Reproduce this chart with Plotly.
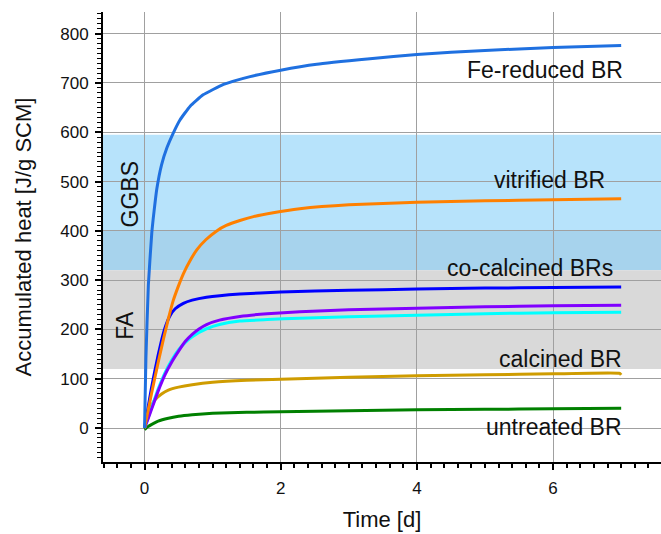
import plotly.graph_objects as go

# ---- data ----
t_fe = [0, 0.02, 0.056, 0.106, 0.14, 0.18, 0.25, 0.33, 0.42, 0.52, 0.67, 0.86, 1.16, 1.55, 2, 2.53, 3.31, 4, 5, 6, 7]
v_fe = [0, 140, 290, 395, 440, 485, 534, 569, 598, 625, 653, 676, 697, 713, 726, 738, 749, 758, 766, 772, 776]

t_vit = [0, 0.05, 0.1, 0.15, 0.2, 0.28, 0.35, 0.42, 0.5, 0.57, 0.67, 0.77, 0.9, 1.06, 1.2, 1.4, 1.6, 1.89, 2.28, 3, 4, 5, 6, 7]
v_vit = [0, 34, 68, 101, 133, 182, 222, 258, 289, 313, 340, 362, 382, 400, 411, 421, 429, 437, 445, 453, 458, 461, 463, 465]

t_cc1 = [0, 0.05, 0.1, 0.15, 0.2, 0.25, 0.3, 0.37, 0.45, 0.57, 0.7, 0.91, 1.4, 2, 3, 4, 5, 6, 7]
v_cc1 = [0, 40, 80, 115, 148, 178, 203, 227, 242, 253, 259.5, 265.5, 272, 276, 279.5, 282, 284, 285, 286]

t_cc2 = [0, 0.05, 0.1, 0.2, 0.3, 0.4, 0.5, 0.6, 0.7, 0.8, 0.91, 1.1, 1.4, 1.8, 2.28, 3, 4, 5, 6, 7]
v_cc2 = [0, 18, 37, 75, 108, 134, 156, 176, 190, 201, 210, 219, 226.5, 232, 236, 240, 243, 246, 248, 249]

t_cc3 = [0, 0.05, 0.1, 0.2, 0.3, 0.4, 0.5, 0.6, 0.7, 0.8, 0.91, 1.1, 1.4, 1.8, 2.28, 3, 4, 5, 6, 7]
v_cc3 = [0, 20, 40, 79, 112, 138, 159, 174, 185, 194, 201.5, 210, 217, 220, 223, 226, 229, 232, 234, 235]

t_cal = [0, 0.03, 0.06, 0.1, 0.15, 0.25, 0.35, 0.5, 0.7, 1.0, 1.5, 2, 3, 4, 5, 6, 6.98, 7.0]
v_cal = [0, 18, 32, 45, 57, 69, 77, 83, 88, 93, 97, 99, 103, 106, 108, 110, 111, 108]

t_unt = [0, 0.05, 0.1, 0.2, 0.35, 0.5, 0.7, 1.0, 1.5, 2, 3, 4, 5, 6, 7]
v_unt = [-3, 3, 7, 14, 20, 24, 27, 30, 32, 33, 35, 37, 38, 39, 40]

series = [
    ("untreated BR", t_unt, v_unt, "#008000"),
    ("calcined BR", t_cal, v_cal, "#cf9c00"),
    ("co-calcined BR 3", t_cc3, v_cc3, "#00ffff"),
    ("co-calcined BR 2", t_cc2, v_cc2, "#8000ff"),
    ("co-calcined BR 1", t_cc1, v_cc1, "#0000ff"),
    ("vitrified BR", t_vit, v_vit, "#ff8000"),
    ("Fe-reduced BR", t_fe, v_fe, "#1f70e0"),
]

labels = ["Fe-reduced BR", "vitrified BR", "co-calcined BRs", "calcined BR", "untreated BR"]
label_x = [7.05, 6.79, 6.91, 7.04, 7.04]
label_y = [726, 503, 324, 140, 3]

bands = [  # (y0, y1, colour)
    (400, 595, "#b7e3fb"),
    (320, 400, "#a7d3ed"),
    (120, 320, "#d9d9d9"),
]
band_labels = ["GGBS", "FA"]
band_label_x = [-0.22, -0.29]
band_label_y = [473, 209]

FONT = "Liberation Sans, Arial, sans-serif"

fig = go.Figure()
for name, t, v, c in series:
    fig.add_trace(go.Scatter(x=t, y=v, mode="lines", name=name,
                             line=dict(color=c, width=3, shape="spline", smoothing=0.4),
                             showlegend=False))

for y0, y1, c in bands:
    fig.add_shape(type="rect", xref="paper", x0=0, x1=1, yref="y", y0=y0, y1=y1,
                  fillcolor=c, line=dict(width=0), layer="below")

for txt, x, y in zip(labels, label_x, label_y):
    fig.add_annotation(x=x, y=y, text=txt, showarrow=False, xanchor="right", yanchor="middle",
                       font=dict(family=FONT, size=23, color="#111"))

for txt, x, y in zip(band_labels, band_label_x, band_label_y):
    fig.add_annotation(x=x, y=y, text=txt, showarrow=False, textangle=-90,
                       xanchor="center", yanchor="middle",
                       font=dict(family=FONT, size=23, color="#111"))

fig.update_layout(
    width=661, height=534,
    margin=dict(l=103, r=0, t=12, b=72, autoexpand=False),
    plot_bgcolor="white", paper_bgcolor="white",
    font=dict(family=FONT, color="#111"),
)
fig.update_xaxes(
    range=[-0.61, 7.585], tickvals=[0, 2, 4, 6], showgrid=True, gridcolor="#a0a0a0", gridwidth=1,
    zeroline=False, showline=True, linecolor="black", linewidth=2,
    ticks="outside", ticklen=6, tickwidth=1.5, tickcolor="black", ticklabelstandoff=4,
    minor=dict(ticks="outside", dtick=0.2, tick0=0, ticklen=4, tickwidth=1.5, tickcolor="black", showgrid=False),
    tickfont=dict(size=17), title=dict(text="Time [d]", font=dict(size=22), standoff=14),
)
fig.update_yaxes(
    range=[-68.8, 844], tickvals=[0, 100, 200, 300, 400, 500, 600, 700, 800],
    showgrid=True, gridcolor="#a0a0a0", gridwidth=1,
    zeroline=False, showline=True, linecolor="black", linewidth=2,
    ticks="outside", ticklen=6, tickwidth=1.5, tickcolor="black", ticklabelstandoff=3,
    minor=dict(ticks="outside", dtick=10, tick0=0, ticklen=4, tickwidth=1, tickcolor="black", showgrid=False),
    tickfont=dict(size=17), title=dict(text="Accumulated heat [J/g SCM]", font=dict(size=22), standoff=23),
)

fig.write_html("out.html", config={"displayModeBar": False},
               post_script="document.body.style.margin='0';document.body.style.overflow='hidden';")
